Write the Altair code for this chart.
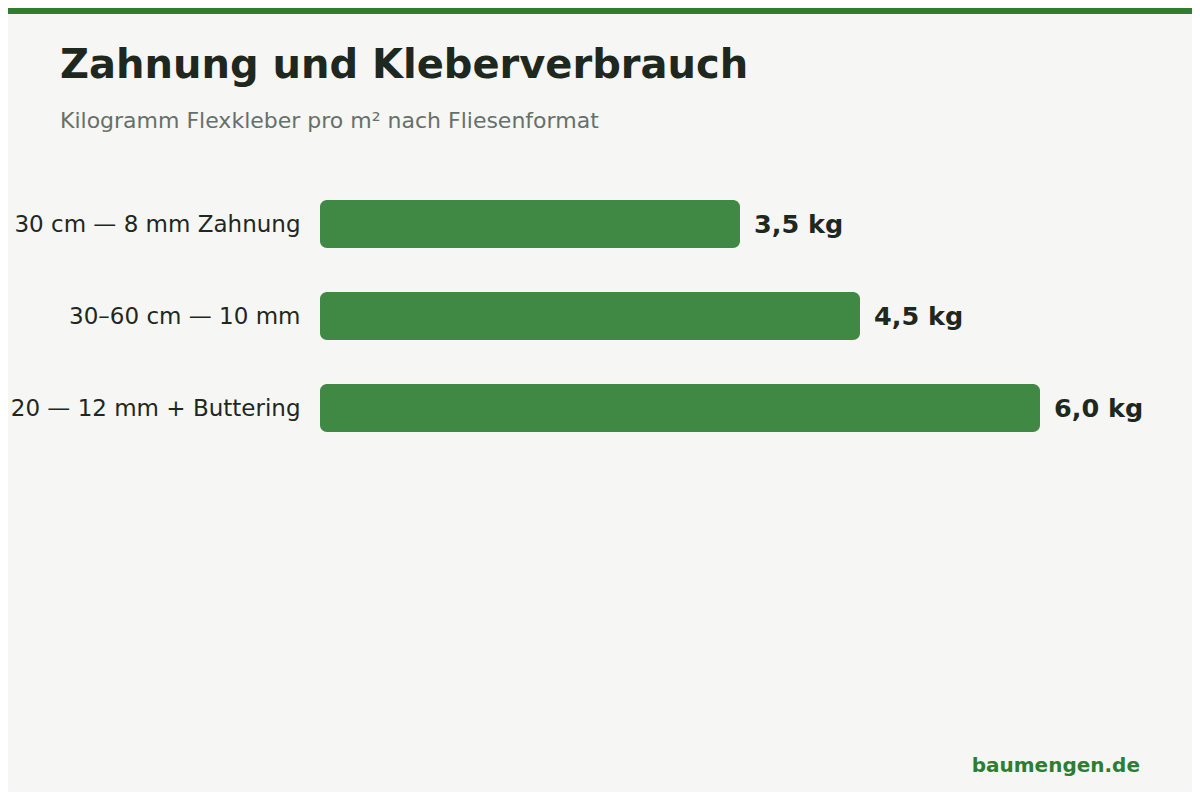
import altair as alt
import pandas as pd

categories = ["30 cm — 8 mm Zahnung", "30–60 cm — 10 mm", "20 — 12 mm + Buttering"]
values = [3.5, 4.5, 6.0]
value_labels = ["3,5 kg", "4,5 kg", "6,0 kg"]

title_text = "Zahnung und Kleberverbrauch"
subtitle_text = "Kilogramm Flexkleber pro m² nach Fliesenformat"
footer_text = "baumengen.de"

FONT = "DejaVu Sans"
BG = "#f6f6f4"
BAR = "#408945"
DARK = "#1e281e"
ACCENT = "#2e7d32"

df = pd.DataFrame({"cat": categories, "val": values, "lbl": value_labels})

y_enc = alt.Y(
    "cat:N",
    sort=categories,
    scale=alt.Scale(paddingInner=0.478, paddingOuter=0.239),
    axis=alt.Axis(
        title=None, ticks=False, domain=False, grid=False,
        labelFont=FONT, labelFontSize=23, labelColor=DARK,
        labelPadding=20, labelLimit=600, labelOffset=1,
    ),
)
x_enc = alt.X("val:Q", scale=alt.Scale(domain=[0, 7]), axis=None)

base = alt.Chart(df)

bars = base.mark_bar(color=BAR, cornerRadius=7).encode(y=y_enc, x=x_enc)

labels = base.mark_text(
    align="left", baseline="middle", dx=14, dy=1, font=FONT, fontSize=25.5,
    fontWeight="bold", color=DARK,
).encode(y=y_enc, x=x_enc, text="lbl:N")

one = pd.DataFrame({"t": [title_text], "s": [subtitle_text], "f": [footer_text]})
deco = alt.Chart(one)

topbar = deco.mark_rect(color=ACCENT).encode(
    x=alt.value(-312), x2=alt.value(900), y=alt.value(-170), y2=alt.value(-164)
)

title = deco.mark_text(
    align="left", baseline="alphabetic", font=FONT, fontSize=40,
    fontWeight="bold", color=DARK,
).encode(x=alt.value(-260), y=alt.value(-100), text="t:N")

subtitle = deco.mark_text(
    align="left", baseline="alphabetic", font=FONT, fontSize=22, color="#66706a",
).encode(x=alt.value(-260), y=alt.value(-50), text="s:N")

footer = deco.mark_text(
    align="right", baseline="alphabetic", font=FONT, fontSize=20,
    fontWeight="bold", color=ACCENT,
).encode(x=alt.value(820), y=alt.value(594), text="f:N")

chart = alt.layer(topbar, bars, labels, title, subtitle, footer).properties(
    width=840,
    height=276,
    autosize=alt.AutoSizeParams(type="none"),
    padding={"left": 312, "top": 170, "right": 32, "bottom": 338},
    background=BG,
).configure_view(stroke=None)

chart.save("out.html", embed_options={"renderer": "svg", "actions": False})
